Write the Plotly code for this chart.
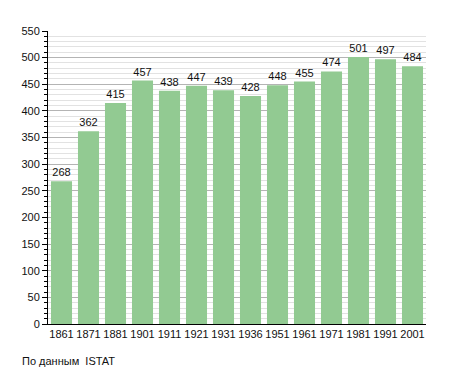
import plotly.graph_objects as go

years = ["1861", "1871", "1881", "1901", "1911", "1921", "1931", "1936",
         "1951", "1961", "1971", "1981", "1991", "2001"]
population = [268, 362, 415, 457, 438, 447, 439, 428, 448, 455, 474, 501, 497, 484]
y_ticks = list(range(0, 551, 50))
source_text = "По данным  ISTAT"

W, H = 455, 373
L, R, T, B = 48, 29, 31, 49
pw, ph = W - L - R, H - T - B

fig = go.Figure(go.Bar(
    x=years, y=population,
    marker=dict(color="rgb(146,202,146)", line=dict(width=0)),
    text=[str(v) for v in population], textposition="outside",
    textfont=dict(size=11, color="#111", family="Liberation Sans, Arial, sans-serif"),
    cliponaxis=False,
))

fig.update_layout(
    width=W, height=H,
    margin=dict(l=L, r=R, t=T, b=B),
    paper_bgcolor="white", plot_bgcolor="white",
    bargap=0.22,
    showlegend=False,
    font=dict(family="Liberation Sans, Arial, sans-serif", size=11, color="#111"),
    xaxis=dict(
        type="category", showgrid=False, showline=True, linecolor="black", linewidth=1,
        ticks="", tickfont=dict(size=11), fixedrange=True,
    ),
    yaxis=dict(
        range=[0, 550], tickvals=y_ticks, showgrid=True, gridcolor="#b4b4b4", gridwidth=1,
        showline=True, linecolor="black", linewidth=1, zeroline=False,
        ticks="outside", ticklen=5, tickcolor="black", tickfont=dict(size=11),
        minor=dict(dtick=10, showgrid=True, gridcolor="#e2e2e2", gridwidth=1,
                   ticks="outside", ticklen=3, tickcolor="black"),
    ),
    annotations=[dict(
        text=source_text, xref="paper", yref="paper",
        x=(20 - L) / pw, y=(H - B - 361) / ph, xanchor="left", yanchor="middle",
        showarrow=False, font=dict(size=11, color="#111"),
    )],
)

fig.write_html("out.html", config={"displayModeBar": False},
               post_script="document.body.style.margin='0';")
